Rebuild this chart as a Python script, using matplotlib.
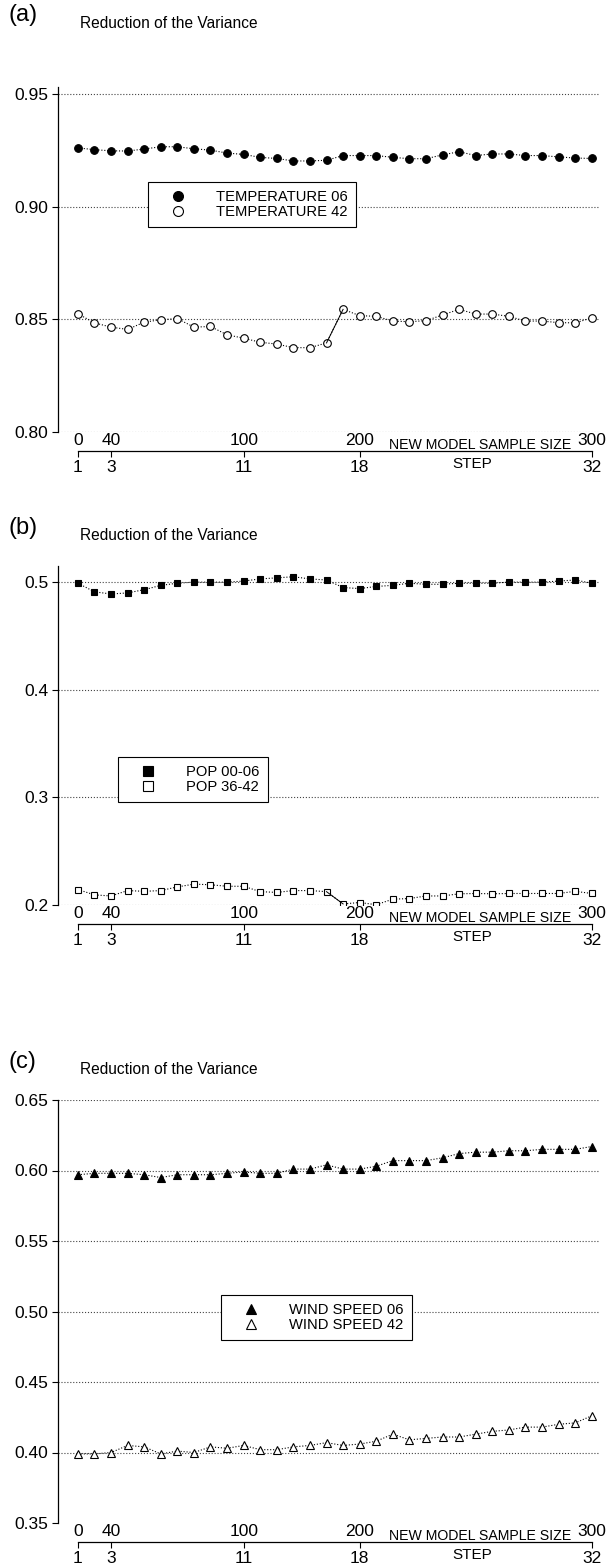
import numpy as np
import matplotlib
matplotlib.use("Agg")
import matplotlib.pyplot as plt

plt.rcParams['font.family'] = ['Liberation Sans', 'DejaVu Sans']

# data
steps = np.arange(1, 33)
step_ticks = [1, 3, 11, 18, 32]
size_labels = ['0', '40', '100', '200', '300']

temp06 = [0.9260, 0.9252, 0.9247, 0.9246, 0.9255, 0.9265, 0.9265, 0.9256,
          0.9250, 0.9237, 0.9231, 0.9218, 0.9213, 0.9202, 0.9202, 0.9205,
          0.9226, 0.9226, 0.9226, 0.9218, 0.9212, 0.9212, 0.9229, 0.9243,
          0.9226, 0.9233, 0.9233, 0.9226, 0.9226, 0.9220, 0.9215, 0.9213]
temp42 = [0.8524, 0.8484, 0.8465, 0.8455, 0.8487, 0.8498, 0.8503, 0.8465,
          0.8468, 0.8431, 0.8416, 0.8398, 0.8390, 0.8374, 0.8374, 0.8395,
          0.8544, 0.8516, 0.8513, 0.8492, 0.8489, 0.8494, 0.8519, 0.8544,
          0.8523, 0.8523, 0.8513, 0.8492, 0.8492, 0.8485, 0.8484, 0.8506]

pop06 = [0.499, 0.491, 0.489, 0.490, 0.493, 0.497, 0.499, 0.500,
         0.500, 0.500, 0.501, 0.503, 0.504, 0.505, 0.503, 0.502,
         0.495, 0.494, 0.496, 0.497, 0.499, 0.498, 0.498, 0.499,
         0.499, 0.499, 0.500, 0.500, 0.500, 0.501, 0.502, 0.499]
pop42 = [0.2144, 0.2094, 0.2084, 0.2134, 0.2127, 0.2134, 0.2168, 0.2194,
         0.2188, 0.2174, 0.2174, 0.2124, 0.2117, 0.2134, 0.2134, 0.2124,
         0.2010, 0.2023, 0.2003, 0.2054, 0.2060, 0.2084, 0.2084, 0.2104,
         0.2107, 0.2104, 0.2107, 0.2107, 0.2107, 0.2107, 0.2127, 0.2107]

wind06 = [0.597, 0.598, 0.598, 0.598, 0.597, 0.595, 0.597, 0.597,
          0.597, 0.598, 0.599, 0.598, 0.598, 0.601, 0.601, 0.604,
          0.601, 0.601, 0.603, 0.607, 0.607, 0.607, 0.609, 0.612,
          0.613, 0.613, 0.614, 0.614, 0.615, 0.615, 0.615, 0.617]
wind42 = [0.399, 0.399, 0.400, 0.405, 0.404, 0.399, 0.401, 0.400,
          0.404, 0.403, 0.405, 0.402, 0.402, 0.404, 0.405, 0.407,
          0.405, 0.406, 0.408, 0.413, 0.409, 0.410, 0.411, 0.411,
          0.413, 0.415, 0.416, 0.418, 0.418, 0.420, 0.421, 0.426]

W, H = 611.0, 1568.0
fig = plt.figure(figsize=(W / 100, H / 100), dpi=100)


def panel(top, bottom, letter, ylim, yticks, ylabels, series, leg_xy, grid_skip0=False):
    ax = fig.add_axes([58 / W, 1 - bottom / H, 542 / W, (bottom - top) / H])
    for vals, marker, face, ms, label, jump in series:
        ax.plot(steps, vals, ls=':', color='k', lw=0.8, marker=marker,
                mfc=face, mec='k', mew=0.8, ms=ms, label=label)
        if jump:
            ax.plot(steps[15:17], vals[15:17], '-', color='k', lw=0.7)
    ax.set_xlim(-0.2, 32.5)
    ax.set_ylim(*ylim)
    ax.set_yticks(yticks)
    ax.set_yticklabels(ylabels)
    ax.yaxis.grid(True, ls=':', color='#444444', lw=0.8)
    if grid_skip0:
        ax.get_ygridlines()[0].set_visible(False)
    ax.spines['top'].set_visible(False)
    ax.spines['right'].set_visible(False)
    ax.spines['left'].set_linewidth(0.9)
    ax.tick_params(axis='y', direction='out', length=4, pad=3, labelsize=12.5)

    # step axis (line below the plot)
    ax.spines['bottom'].set_position(('outward', 14))
    ax.spines['bottom'].set_bounds(1, 32)
    ax.spines['bottom'].set_linewidth(0.9)
    ax.set_xticks(step_ticks)
    ax.set_xticklabels([str(s) for s in step_ticks])
    ax.tick_params(axis='x', direction='out', length=4, pad=2, labelsize=12.5)

    # sample size labels
    sec = ax.secondary_xaxis('bottom')
    sec.set_xticks(step_ticks, labels=size_labels)
    sec.spines['bottom'].set_visible(False)
    sec.tick_params(length=0, pad=1, labelsize=12.5)

    ax.annotate('NEW MODEL SAMPLE SIZE', xy=(0.779, 0), xycoords='axes fraction',
                xytext=(0, -4), textcoords='offset points', ha='center', va='top',
                fontsize=10.2)
    ax.annotate('STEP', xy=(0.765, 0), xycoords='axes fraction',
                xytext=(0, -18), textcoords='offset points', ha='center', va='top',
                fontsize=11)

    leg = ax.legend(loc='upper left', bbox_to_anchor=leg_xy, fontsize=10.6,
                    frameon=True, fancybox=False, edgecolor='k', framealpha=1,
                    handlelength=3.0, handletextpad=1.1, borderaxespad=0,
                    markerscale=1.3, labelspacing=0.05, borderpad=0.55)
    leg.get_frame().set_linewidth(0.8)
    for ln in leg.get_lines():
        ln.set_linestyle('none')

    y_lab = top - 64 if letter == '(a)' else top - 30
    fig.text(8 / W, 1 - (y_lab - 8) / H, letter, fontsize=17, va='center')
    fig.text(80 / W, 1 - y_lab / H, 'Reduction of the Variance', fontsize=11.2, va='center')
    return ax


panel(87, 432, '(a)', (0.80, 0.953), [0.80, 0.85, 0.90, 0.95],
      ['0.80', '0.85', '0.90', '0.95'],
      [(temp06, 'o', 'k', 5.5, 'TEMPERATURE 06', False),
       (temp42, 'o', 'w', 5.5, 'TEMPERATURE 42', True)],
      (0.166, 0.725))

panel(566, 905, '(b)', (0.2, 0.515), [0.2, 0.3, 0.4, 0.5],
      ['0.2', '0.3', '0.4', '0.5'],
      [(pop06, 's', 'k', 5, 'POP 00-06', False),
       (pop42, 's', 'w', 5, 'POP 36-42', True)],
      (0.11, 0.437))

panel(1100, 1523, '(c)', (0.35, 0.65), [0.35, 0.40, 0.45, 0.50, 0.55, 0.60, 0.65],
      ['0.35', '0.40', '0.45', '0.50', '0.55', '0.60', '0.65'],
      [(wind06, '^', 'k', 5.5, 'WIND SPEED 06', False),
       (wind42, '^', 'w', 5.5, 'WIND SPEED 42', False)],
      (0.30, 0.539), grid_skip0=True)

fig.savefig('out.png', dpi=100)
